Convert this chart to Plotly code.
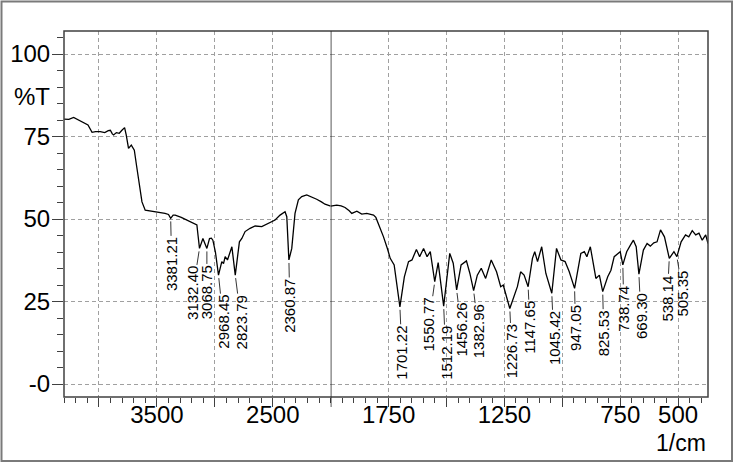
import plotly.graph_objects as go

# widmo IR - lewa czesc (skala skrocona 4300-2000 1/cm)
wn_left = [4302, 4260, 4219, 4175, 4133, 4095, 4060, 4030, 3989, 3950, 3920, 3902, 3885, 3874,
           3850, 3825, 3802, 3779, 3765, 3745, 3721, 3695, 3675, 3658, 3629, 3601, 3580, 3558,
           3520, 3471, 3430, 3400, 3381.21, 3360, 3342, 3290, 3241, 3200, 3155, 3145, 3132.40,
           3103, 3068.75, 3046, 3030, 3017, 2995, 2968.45, 2940, 2925, 2911, 2891, 2853,
           2823.79, 2800, 2788, 2767, 2739, 2696, 2652, 2595, 2538, 2480, 2437, 2394, 2379,
           2360.87, 2336, 2308, 2279, 2250, 2207, 2160, 2121, 2080, 2049, 2000]
t_left = [80.3, 80.2, 80.8, 80.0, 79.0, 78.5, 76.3, 76.5, 76.5, 76.2, 76.8, 76.9, 75.8, 75.5,
          76.2, 76.0, 76.9, 77.7, 75.5, 71.4, 72.4, 70.9, 66.0, 62.3, 55.2, 52.7, 52.6, 52.4,
          52.3, 52.0, 51.7, 51.4, 50.2, 51.2, 51.2, 50.5, 49.7, 49.0, 48.2, 45.0, 41.1,
          44.1, 41.1, 44.1, 44.2, 43.6, 40.0, 33.0, 37.1, 36.5, 38.6, 37.6, 41.6,
          33.0, 40.0, 43.1, 44.1, 46.2, 47.2, 47.9, 47.7, 48.7, 49.7, 51.2, 52.2, 50.7,
          37.6, 41.1, 51.7, 55.8, 56.8, 57.3, 56.7, 56.0, 55.2, 54.5, 53.9]

# prawa czesc (2000-370 1/cm)
wn_right = [2000, 1974, 1955, 1938, 1920, 1909, 1887, 1866, 1844, 1815, 1805, 1794, 1772, 1755,
            1743, 1726, 1710, 1701.22, 1682, 1664, 1649, 1630, 1616, 1599, 1584, 1570, 1550.77,
            1536, 1512.19, 1486, 1471, 1456.26, 1437, 1414, 1399, 1382.96, 1367, 1350, 1331,
            1307, 1284, 1266, 1255, 1240, 1226.73, 1194, 1180, 1165, 1147.65, 1129, 1119, 1107,
            1089, 1071, 1045.42, 1025, 1006, 988, 970, 947.05, 920, 905, 894, 879, 855, 840,
            825.53, 804, 790, 776, 761, 750, 738.74, 722, 706, 693, 681, 669.30, 650, 634, 620,
            605, 591, 576, 559, 538.14, 518, 505.35, 487, 468, 454, 439, 424, 410, 396, 381, 371]
t_right = [53.9, 54.2, 54.0, 53.5, 52.5, 51.7, 52.4, 51.5, 51.7, 51.2, 50.5, 48.7, 44.6, 41.0,
           38.1, 36.1, 28.0, 23.4, 32.5, 37.1, 37.6, 40.8, 38.6, 41.1, 38.6, 40.1, 31.0,
           36.8, 23.6, 39.6, 36.6, 28.5, 36.1, 37.3, 33.5, 28.3, 33.0, 35.1, 32.0,
           37.6, 34.0, 29.5, 30.0, 26.5, 22.9, 29.5, 34.0, 33.0, 29.5, 38.1, 40.1, 37.1,
           41.6, 33.5, 27.5, 41.1, 37.6, 37.1, 34.0, 29.0, 39.6, 40.1, 38.6, 41.6, 32.0, 33.0,
           28.0, 32.5, 34.5, 38.6, 39.6, 40.1, 36.1, 40.1, 42.1, 43.6, 41.6, 33.3, 40.6, 42.6, 41.8,
           42.8, 43.1, 46.7, 44.6, 38.1, 40.1, 38.6, 43.1, 45.2, 44.6, 46.5, 45.2, 45.7, 43.6, 45.2, 42.6]

peak_labels = ["3381.21", "3132.40", "3068.75", "2968.45", "2823.79", "2360.87",
               "1701.22", "1550.77", "1512.19", "1456.26", "1382.96", "1226.73", "1147.65",
               "1045.42", "947.05", "825.53", "738.74", "669.30", "538.14", "505.35"]
# przesuniecie opisu wzgledem piku (px)
label_shift = [(1, 44), (-7, 43), (0, 42), (5, 45), (6, 45), (1, 44),
               (2, 44), (-6, 41), (2, 45), (5, 38), (5, 39), (2, 41), (2, 39),
               (2, 43), (1, 38), (1, 40), (1, 42), (2, 40), (-2, 38), (6, 35)]

W, H = 734, 463
L, R, T, B = 64, 708, 31, 397
split = (330.7 - L) / (R - L)

def px(x):
    return (x - L) / (R - L)

def py(y):
    return (B - y) / (B - T)

fig = go.Figure()
fig.add_trace(go.Scatter(x=wn_left, y=t_left, mode="lines", line=dict(color="black", width=1.3),
                         xaxis="x", yaxis="y"))
fig.add_trace(go.Scatter(x=wn_right, y=t_right, mode="lines", line=dict(color="black", width=1.3),
                         xaxis="x2", yaxis="y"))

grid = dict(showgrid=True, gridcolor="#a0a0a0", gridwidth=1, griddash="4px,3px", zeroline=False,
            ticks="outside", tickcolor="#404040", showline=False, automargin=False,
            tickfont=dict(family="Liberation Sans", size=24, color="black"))

fig.update_layout(
    width=W, height=H, margin=dict(l=L, r=W - R, t=T, b=H - B, autoexpand=False),
    paper_bgcolor="white", plot_bgcolor="white", showlegend=False,
    xaxis=dict(domain=[0, split], range=[4302, 2000], anchor="y",
               tickvals=[4000, 3500, 3000, 2500], ticktext=["", "3500", "", "2500"], ticklen=9,
               ticklabelstandoff=-13,
               minor=dict(dtick=100, tick0=0, ticks="outside", ticklen=5, tickcolor="#404040", showgrid=False),
               **grid),
    xaxis2=dict(domain=[split, 1], range=[2000, 371], anchor="y",
                tickvals=[1750, 1500, 1250, 1000, 750, 500],
                ticktext=["1750", "", "1250", "", "750", "500"], ticklen=9,
                ticklabelstandoff=-13,
                minor=dict(dtick=50, tick0=0, ticks="outside", ticklen=5, tickcolor="#404040", showgrid=False),
                **grid),
    yaxis=dict(range=[-3.94, 107], anchor="x", tickvals=[0, 25, 50, 75, 100],
               ticktext=["-0", "25", "50", "75", "100"], ticklen=11, ticklabelstandoff=-3,
               minor=dict(dtick=5, tick0=0, ticks="outside", ticklen=6, tickcolor="#404040", showgrid=False),
               **grid),
)

# ramka wykresu, linia podzialu skali i ramka obrazka
fig.add_shape(type="rect", xref="paper", yref="paper", x0=0, x1=1, y0=0, y1=1,
              line=dict(color="#404040", width=1.5))
fig.add_shape(type="line", xref="x2", yref="paper", x0=2000, x1=2000, y0=py(407), y1=1,
              line=dict(color="#222222", width=1.5))
fig.add_shape(type="rect", xref="paper", yref="paper", x0=px(1.5), x1=px(732), y0=py(461), y1=py(1.5),
              line=dict(color="#7a7a7a", width=2))

lookup = dict(zip(wn_left + wn_right, t_left + t_right))
for lab, (dx, dy) in zip(peak_labels, label_shift):
    w = float(lab)
    fig.add_annotation(x=w, y=lookup[w], xref="x" if w > 2000 else "x2", yref="y",
                       text=lab, textangle=-90, showarrow=True, arrowhead=0, arrowwidth=0.8,
                       arrowcolor="black", standoff=3, ax=dx, ay=dy + 2,
                       font=dict(family="Liberation Sans", size=15, color="black"))

fig.add_annotation(x=px(52), y=87, xref="paper", yref="y", text="%T", showarrow=False,
                   xanchor="right", yanchor="middle",
                   font=dict(family="Liberation Sans", size=24, color="black"))
fig.add_annotation(x=1, y=py(443), xref="paper", yref="paper", text="1/cm", showarrow=False,
                   xanchor="right", yanchor="middle",
                   font=dict(family="Liberation Sans", size=23, color="black"))

# bez marginesu strony, zeby wykres lezal w rogu okna
fig.write_html("out.html", config={"displayModeBar": False},
               post_script="document.body.style.margin='0px';")
